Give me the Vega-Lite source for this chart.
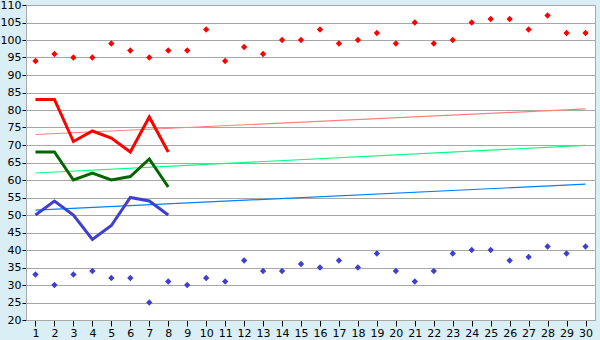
{
  "$schema": "https://vega.github.io/schema/vega-lite/v6.json",
  "autosize": {"type": "none"},
  "width": 569,
  "height": 315,
  "padding": {"left": 26, "top": 5, "right": 5, "bottom": 20},
  "background": "#d9eef5",
  "config": {
    "view": {"fill": "#ffffff", "stroke": "#a8a8a8", "strokeWidth": 1},
    "axis": {"labelFont": "DejaVu Sans", "labelFontSize": 11, "labelColor": "#000000", "tickColor": "#000000", "domainColor": "#a8a8a8", "gridColor": "#a8a8a8", "gridOpacity": 1}
  },
  "datasets": {
    "points": [
      {"x": 1, "value": 94, "series": "high"}, {"x": 2, "value": 96, "series": "high"}, {"x": 3, "value": 95, "series": "high"}, {"x": 4, "value": 95, "series": "high"}, {"x": 5, "value": 99, "series": "high"}, {"x": 6, "value": 97, "series": "high"}, {"x": 7, "value": 95, "series": "high"}, {"x": 8, "value": 97, "series": "high"}, {"x": 9, "value": 97, "series": "high"}, {"x": 10, "value": 103, "series": "high"},
      {"x": 11, "value": 94, "series": "high"}, {"x": 12, "value": 98, "series": "high"}, {"x": 13, "value": 96, "series": "high"}, {"x": 14, "value": 100, "series": "high"}, {"x": 15, "value": 100, "series": "high"}, {"x": 16, "value": 103, "series": "high"}, {"x": 17, "value": 99, "series": "high"}, {"x": 18, "value": 100, "series": "high"}, {"x": 19, "value": 102, "series": "high"}, {"x": 20, "value": 99, "series": "high"},
      {"x": 21, "value": 105, "series": "high"}, {"x": 22, "value": 99, "series": "high"}, {"x": 23, "value": 100, "series": "high"}, {"x": 24, "value": 105, "series": "high"}, {"x": 25, "value": 106, "series": "high"}, {"x": 26, "value": 106, "series": "high"}, {"x": 27, "value": 103, "series": "high"}, {"x": 28, "value": 107, "series": "high"}, {"x": 29, "value": 102, "series": "high"}, {"x": 30, "value": 102, "series": "high"},
      {"x": 1, "value": 33, "series": "low"}, {"x": 2, "value": 30, "series": "low"}, {"x": 3, "value": 33, "series": "low"}, {"x": 4, "value": 34, "series": "low"}, {"x": 5, "value": 32, "series": "low"}, {"x": 6, "value": 32, "series": "low"}, {"x": 7, "value": 25, "series": "low"}, {"x": 8, "value": 31, "series": "low"}, {"x": 9, "value": 30, "series": "low"}, {"x": 10, "value": 32, "series": "low"},
      {"x": 11, "value": 31, "series": "low"}, {"x": 12, "value": 37, "series": "low"}, {"x": 13, "value": 34, "series": "low"}, {"x": 14, "value": 34, "series": "low"}, {"x": 15, "value": 36, "series": "low"}, {"x": 16, "value": 35, "series": "low"}, {"x": 17, "value": 37, "series": "low"}, {"x": 18, "value": 35, "series": "low"}, {"x": 19, "value": 39, "series": "low"}, {"x": 20, "value": 34, "series": "low"},
      {"x": 21, "value": 31, "series": "low"}, {"x": 22, "value": 34, "series": "low"}, {"x": 23, "value": 39, "series": "low"}, {"x": 24, "value": 40, "series": "low"}, {"x": 25, "value": 40, "series": "low"}, {"x": 26, "value": 37, "series": "low"}, {"x": 27, "value": 38, "series": "low"}, {"x": 28, "value": 41, "series": "low"}, {"x": 29, "value": 39, "series": "low"}, {"x": 30, "value": 41, "series": "low"}
    ],
    "lines": [
      {"x": 1, "value": 83, "series": "red"}, {"x": 2, "value": 83, "series": "red"}, {"x": 3, "value": 71, "series": "red"}, {"x": 4, "value": 74, "series": "red"}, {"x": 5, "value": 72, "series": "red"}, {"x": 6, "value": 68, "series": "red"}, {"x": 7, "value": 78, "series": "red"}, {"x": 8, "value": 68, "series": "red"},
      {"x": 1, "value": 68, "series": "green"}, {"x": 2, "value": 68, "series": "green"}, {"x": 3, "value": 60, "series": "green"}, {"x": 4, "value": 62, "series": "green"}, {"x": 5, "value": 60, "series": "green"}, {"x": 6, "value": 61, "series": "green"}, {"x": 7, "value": 66, "series": "green"}, {"x": 8, "value": 58, "series": "green"},
      {"x": 1, "value": 50, "series": "blue"}, {"x": 2, "value": 54, "series": "blue"}, {"x": 3, "value": 50, "series": "blue"}, {"x": 4, "value": 43, "series": "blue"}, {"x": 5, "value": 47, "series": "blue"}, {"x": 6, "value": 55, "series": "blue"}, {"x": 7, "value": 54, "series": "blue"}, {"x": 8, "value": 50, "series": "blue"}
    ],
    "trends": [
      {"x": 1, "value": 73.0, "series": "red"}, {"x": 30, "value": 80.3, "series": "red"},
      {"x": 1, "value": 62.0, "series": "green"}, {"x": 30, "value": 69.9, "series": "green"},
      {"x": 1, "value": 51.4, "series": "blue"}, {"x": 30, "value": 58.8, "series": "blue"}
    ]
  },
  "encoding": {
    "x": {"field": "x", "type": "quantitative", "scale": {"domain": [0.5, 30.5], "nice": false, "zero": false},
      "axis": {"title": null, "grid": false, "values": [1,2,3,4,5,6,7,8,9,10,11,12,13,14,15,16,17,18,19,20,21,22,23,24,25,26,27,28,29,30], "tickSize": 6, "labelPadding": 1, "domain": true}},
    "y": {"field": "value", "type": "quantitative", "scale": {"domain": [20, 110], "nice": false, "zero": false},
      "axis": {"title": null, "values": [20,25,30,35,40,45,50,55,60,65,70,75,80,85,90,95,100,105,110], "tickSize": 4, "labelPadding": 1, "grid": true}}
  },
  "layer": [
    {
      "data": {"name": "trends"},
      "mark": {"type": "line", "strokeWidth": 1.2},
      "encoding": {
        "detail": {"field": "series"},
        "color": {"field": "series", "type": "nominal", "scale": {"domain": ["red", "green", "blue"], "range": ["#ff8080", "#00ff80", "#0080ff"]}, "legend": null}
      }
    },
    {
      "data": {"name": "lines"},
      "mark": {"type": "line", "strokeWidth": 3},
      "encoding": {
        "stroke": {"field": "series", "type": "nominal", "scale": {"domain": ["red", "green", "blue"], "range": ["#ff0000", "#006600", "#3f3fcf"]}, "legend": null}
      }
    },
    {
      "data": {"name": "points"},
      "mark": {"type": "point", "shape": "diamond", "filled": true, "size": 40, "opacity": 1},
      "encoding": {
        "fill": {"field": "series", "type": "nominal", "scale": {"domain": ["high", "low"], "range": ["#ff0000", "#3f3fcf"]}, "legend": null}
      }
    }
  ],
  "resolve": {"scale": {"color": "independent", "stroke": "independent", "fill": "independent"}}
}
